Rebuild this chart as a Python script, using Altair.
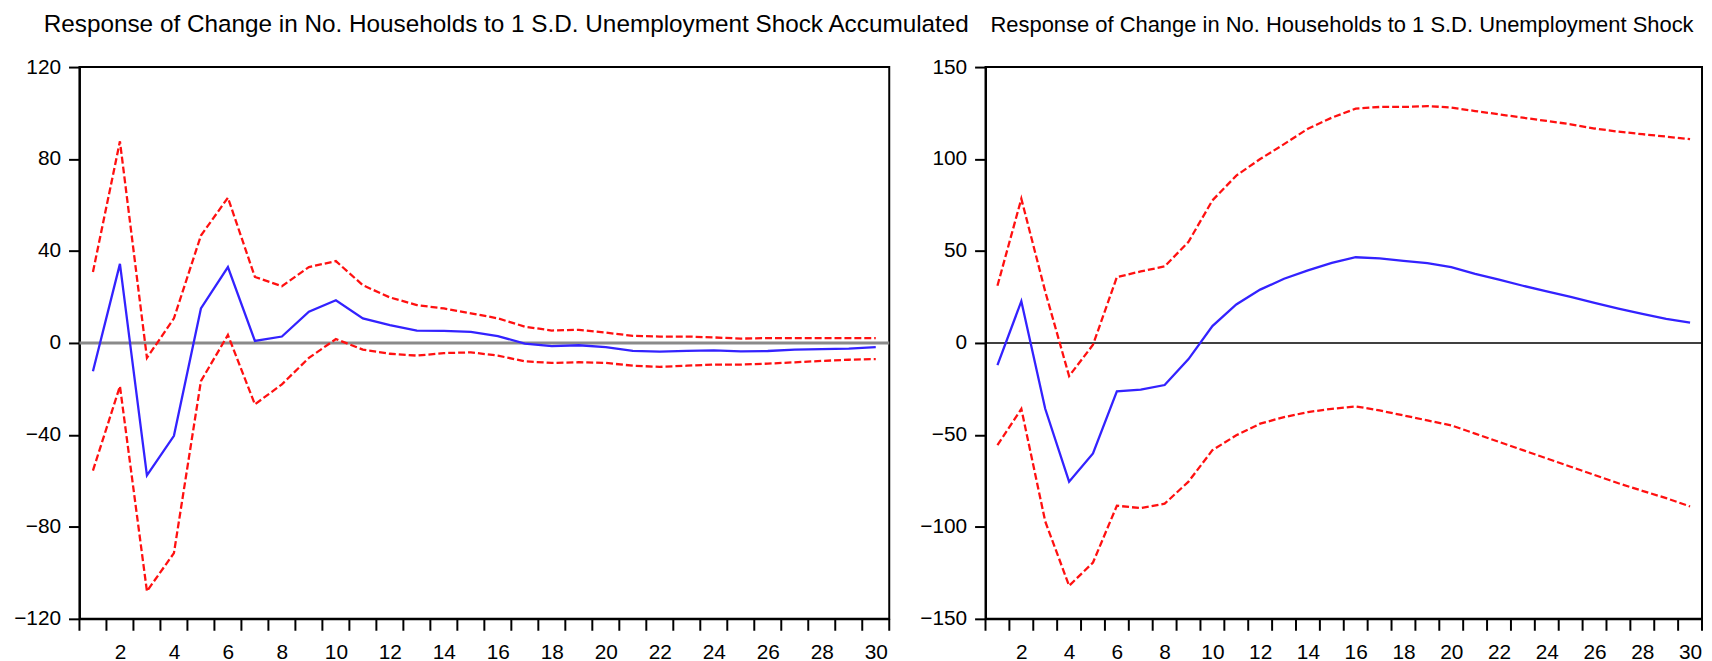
import altair as alt
import pandas as pd

periods = [1, 2, 3, 4, 5, 6, 7, 8, 9, 10, 11, 12, 13, 14, 15,
           16, 17, 18, 19, 20, 21, 22, 23, 24, 25, 26, 27, 28, 29, 30]

# Left panel (title says "Accumulated")
left_response = [-12.3, 34.4, -57.6, -40.4, 15.0, 33.0, 0.9, 2.8, 13.6, 18.6,
                 10.7, 7.8, 5.4, 5.3, 4.8, 3.0, -0.3, -1.4, -1.0, -1.8,
                 -3.4, -3.8, -3.4, -3.2, -3.7, -3.5, -2.9, -2.7, -2.5, -1.8]
left_upper = [30.9, 87.7, -6.5, 10.7, 46.7, 63.2, 28.7, 24.7, 33.0, 35.6,
              25.1, 19.8, 16.5, 15.0, 12.9, 10.7, 7.1, 5.4, 5.7, 4.5,
              3.1, 2.8, 2.8, 2.4, 1.9, 2.1, 2.1, 2.1, 2.1, 2.1]
left_lower = [-55.5, -18.8, -108.0, -91.4, -16.6, 3.5, -26.7, -18.0, -6.5, 1.7,
              -2.9, -4.7, -5.5, -4.4, -4.1, -5.5, -8.0, -8.7, -8.4, -8.7,
              -9.9, -10.4, -9.9, -9.4, -9.4, -9.0, -8.4, -7.8, -7.3, -7.0]

# Right panel
right_response = [-12.1, 22.7, -35.8, -75.4, -60.1, -26.3, -25.4, -22.9, -8.8, 9.2,
                  20.9, 29.0, 34.9, 39.5, 43.5, 46.6, 46.0, 44.6, 43.4, 41.2,
                  37.6, 34.4, 31.1, 28.1, 25.0, 21.8, 18.7, 15.8, 13.1, 11.0]
right_upper = [31.1, 78.4, 28.0, -18.0, -1.0, 35.8, 38.9, 41.6, 55.0, 77.5,
               91.0, 100.0, 108.1, 116.5, 122.5, 127.4, 128.3, 128.3, 128.8, 128.0,
               126.1, 124.3, 122.5, 120.7, 118.9, 116.6, 114.9, 113.5, 112.2, 110.8]
right_lower = [-55.6, -35.8, -97.0, -132.0, -119.4, -88.5, -89.8, -87.4, -75.4, -58.3,
               -50.2, -43.9, -40.3, -37.6, -35.8, -34.5, -36.7, -39.4, -42.1, -44.8,
               -49.3, -53.8, -58.3, -62.8, -67.3, -71.8, -76.3, -80.4, -84.4, -88.9]

left_title = "Response of Change in No. Households to 1 S.D. Unemployment Shock Accumulated"
right_title = "Response of Change in No. Households to 1 S.D. Unemployment Shock"

left_yticks = [-120, -80, -40, 0, 40, 80, 120]
right_yticks = [-150, -100, -50, 0, 50, 100, 150]
x_labels = [2, 4, 6, 8, 10, 12, 14, 16, 18, 20, 22, 24, 26, 28, 30]
x_tick_bounds = [0.5, 1.5, 2.5, 3.5, 4.5, 5.5, 6.5, 7.5, 8.5, 9.5, 10.5,
                 11.5, 12.5, 13.5, 14.5, 15.5, 16.5, 17.5, 18.5, 19.5, 20.5,
                 21.5, 22.5, 23.5, 24.5, 25.5, 26.5, 27.5, 28.5, 29.5, 30.5]

FONT = "Liberation Sans, Arial, sans-serif"
BLUE = "#3322ff"
RED = "#ff1010"
PLOT_H = 556


def panel(resp, up, lo, yticks, width, title_text, title_size, title_dx,
          zero_color, zero_width):
    df = pd.DataFrame({"period": periods, "response": resp, "upper": up, "lower": lo})
    long = df.melt("period", var_name="series", value_name="value")
    ymin, ymax = yticks[0], yticks[-1]
    xscale = alt.Scale(domain=[0.5, 30.5], nice=False, zero=False)
    x = alt.X(
        "period:Q",
        title=None,
        scale=xscale,
        axis=alt.Axis(
            values=x_labels,
            format="d",
            ticks=False,
            tickSize=0,
            labelPadding=23,
            labelOverlap=False,
            labelFlush=False,
            labelBound=False,
        ),
    )
    y = alt.Y(
        "value:Q",
        title=None,
        scale=alt.Scale(domain=[ymin, ymax], nice=False, zero=False),
        axis=alt.Axis(values=yticks, tickSize=11, labelPadding=8),
    )
    base = alt.Chart(long).encode(x=x, y=y)
    zero = alt.Chart(pd.DataFrame({"value": [0]})).mark_rule(
        color=zero_color, strokeWidth=zero_width
    ).encode(y=alt.Y("value:Q"))
    ticks = alt.Chart(pd.DataFrame({"period": x_tick_bounds})).mark_rule(
        color="black", strokeWidth=2
    ).encode(
        x=alt.X("period:Q"),
        y=alt.value(PLOT_H),
        y2=alt.value(PLOT_H + 12),
    )
    bands = base.transform_filter(
        alt.FieldOneOfPredicate(field="series", oneOf=["upper", "lower"])
    ).mark_line(color=RED, strokeWidth=2.3, strokeDash=[7, 3]).encode(detail="series:N")
    line = base.transform_filter(
        alt.FieldEqualPredicate(field="series", equal="response")
    ).mark_line(color=BLUE, strokeWidth=2.3)
    return alt.layer(zero, ticks, bands, line).properties(
        width=width,
        height=PLOT_H,
        title=alt.TitleParams(
            text=title_text,
            anchor="start",
            frame="group",
            dx=title_dx,
            offset=19,
            font=FONT,
            fontSize=title_size,
            fontWeight="normal",
            color="black",
        ),
    )


left = panel(left_response, left_upper, left_lower, left_yticks, 816,
             left_title, 24.5, -36, "#8a8a8a", 3)
right = panel(right_response, right_upper, right_lower, right_yticks, 722,
              right_title, 22.1, 5, "black", 1.5)

chart = alt.hconcat(left, right, spacing=97, bounds="flush").properties(
    padding={"left": 4, "top": 0, "right": 0, "bottom": 0}
).configure_axis(
    grid=False,
    domainColor="black",
    domainWidth=2,
    tickColor="black",
    tickWidth=2,
    labelColor="black",
    labelFont=FONT,
    labelFontSize=21,
).configure_view(stroke="black", strokeWidth=2)

chart.save("out.html", embed_options={"renderer": "svg", "actions": False})
